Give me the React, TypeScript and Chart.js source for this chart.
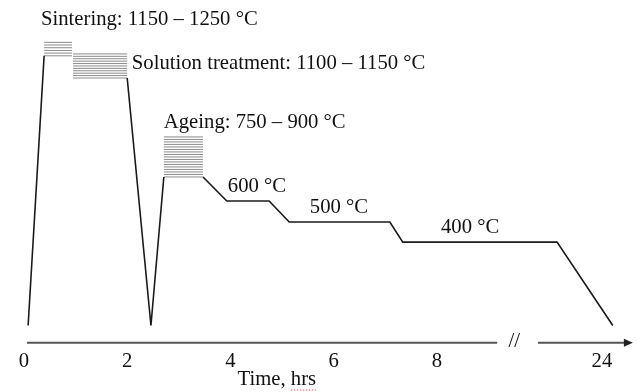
import React, { useEffect, useRef } from "react";
import { Chart, registerables } from "chart.js";

Chart.register(...registerables);

// ---- data (hours, schematic temperature level in °C) ----
const TIME_H: (number | null)[] = [0.08, 0.39, null, 2.0, 2.46, 2.71, null, 3.47, 3.93, 4.75, 5.14, 7.09, 7.34, 23.13, 24.21];
const LEVEL_C: (number | null)[] = [0, 1300, null, 1193, 0, 716, null, 716, 600, 600, 499, 499, 402, 402, 0];

// hatched holding windows
const HOLD_START_H = [0.39, 0.95, 2.71];
const HOLD_END_H = [0.93, 2.0, 3.47];
const HOLD_LOW_C = [1300, 1193, 716];
const HOLD_HIGH_C = [1365, 1309, 909];

// annotations
const LABEL_TEXT = [
  "Sintering: 1150 – 1250 °C",
  "Solution treatment: 1100 – 1150 °C",
  "Ageing: 750 – 900 °C",
  "600 °C",
  "500 °C",
  "400 °C",
];
const LABEL_TIME_H = [0.33, 2.09, 2.71, 3.95, 5.54, 8.08];
const LABEL_LEVEL_C = [1475, 1262, 978, 670, 568, 472];

// axis
const TICK_HOURS = [0, 2, 4, 6, 8, 24];
const TICK_LABELS = ["0", "2", "4", "6", "8", "24"];
const X_TITLE = "Time, hrs";
const X_TITLE_POS = 4.9;

// broken time axis: hours after the break are shifted left
const BREAK_AT = 9.6;
const BREAK_SHIFT = 12.8;
const toAxis = (h: number) => (h <= BREAK_AT ? h : h - BREAK_SHIFT);

const AXIS_FROM = 0.06;
const GAP_FROM = 9.17;
const GAP_TO = 9.96;
const AXIS_TO = 11.8;
const BREAK_MARK = 9.5;

const X_MIN = -0.465;
const X_MAX = 11.957;
const Y_MIN = -83;
const Y_MAX = 1569;

const FAMILY = '"Liberation Serif", "Times New Roman", serif';
const FONT = `20.7px ${FAMILY}`;

const decorPlugin = {
  id: "decor",
  beforeDatasetsDraw(chart: any) {
    const { ctx } = chart;
    const xs = chart.scales.x;
    const ys = chart.scales.y;
    ctx.save();
    ctx.strokeStyle = "#8c8c8c";
    ctx.lineWidth = 1;
    for (let b = 0; b < HOLD_START_H.length; b++) {
      const x0 = xs.getPixelForValue(toAxis(HOLD_START_H[b]));
      const x1 = xs.getPixelForValue(toAxis(HOLD_END_H[b]));
      const yb = ys.getPixelForValue(HOLD_LOW_C[b]);
      const yt = ys.getPixelForValue(HOLD_HIGH_C[b]);
      const n = Math.max(2, Math.round((yb - yt) / 2.5) + 1);
      for (let i = 0; i < n; i++) {
        const y = yb - (i * (yb - yt)) / (n - 1);
        ctx.beginPath();
        ctx.moveTo(x0, y);
        ctx.lineTo(x1, y);
        ctx.stroke();
      }
    }
    ctx.restore();
  },
  afterDraw(chart: any) {
    const { ctx, chartArea } = chart;
    const xs = chart.scales.x;
    const ys = chart.scales.y;
    ctx.save();
    // axis line with break and arrow
    const ay = chartArea.bottom;
    ctx.strokeStyle = "#555";
    ctx.fillStyle = "#222";
    ctx.lineWidth = 2;
    const a0 = xs.getPixelForValue(AXIS_FROM);
    const g0 = xs.getPixelForValue(GAP_FROM);
    const g1 = xs.getPixelForValue(GAP_TO);
    const a1 = xs.getPixelForValue(AXIS_TO);
    ctx.beginPath();
    ctx.moveTo(a0, ay);
    ctx.lineTo(g0, ay);
    ctx.moveTo(g1, ay);
    ctx.lineTo(a1 - 7, ay);
    ctx.stroke();
    ctx.beginPath();
    ctx.moveTo(a1, ay);
    ctx.lineTo(a1 - 9, ay - 4);
    ctx.lineTo(a1 - 9, ay + 4);
    ctx.closePath();
    ctx.fill();

    ctx.fillStyle = "#111";
    ctx.font = FONT;
    ctx.textAlign = "center";
    ctx.textBaseline = "middle";
    ctx.fillText("//", xs.getPixelForValue(BREAK_MARK), ay - 1);

    // annotations
    ctx.textAlign = "left";
    for (let i = 0; i < LABEL_TEXT.length; i++) {
      ctx.fillText(
        LABEL_TEXT[i],
        xs.getPixelForValue(toAxis(LABEL_TIME_H[i])),
        ys.getPixelForValue(LABEL_LEVEL_C[i])
      );
    }

    // axis title
    const tx = xs.getPixelForValue(X_TITLE_POS);
    const ty = chart.height - 12;
    ctx.textAlign = "center";
    ctx.fillText(X_TITLE, tx, ty);
    const full = ctx.measureText(X_TITLE).width;
    const pre = ctx.measureText("Time, ").width;
    const sx = tx - full / 2 + pre;
    const ex = tx + full / 2;
    ctx.strokeStyle = "#e06060";
    ctx.lineWidth = 1;
    ctx.setLineDash([1.5, 1.5]);
    ctx.beginPath();
    ctx.moveTo(sx, chart.height - 2);
    ctx.lineTo(ex, chart.height - 2);
    ctx.stroke();
    ctx.restore();
  },
};

export default function App() {
  const ref = useRef<HTMLCanvasElement | null>(null);
  useEffect(() => {
    if (!ref.current) return;
    const data = TIME_H.map((t, i) => {
      if (t === null || LEVEL_C[i] === null) {
        const prev = TIME_H[i - 1] as number;
        return { x: toAxis(prev), y: null as any };
      }
      return { x: toAxis(t), y: LEVEL_C[i] as number };
    });
    const chart = new Chart(ref.current, {
      type: "line",
      data: {
        datasets: [
          {
            data,
            borderColor: "#1a1a1a",
            borderWidth: 1.6,
            pointRadius: 0,
            tension: 0,
            spanGaps: false,
            fill: false,
          } as any,
        ],
      },
      options: {
        animation: false,
        responsive: false,
        maintainAspectRatio: false,
        devicePixelRatio: 1,
        layout: { padding: 0 },
        plugins: {
          legend: { display: false },
          tooltip: { enabled: false },
          title: { display: false },
        },
        scales: {
          x: {
            type: "linear",
            min: X_MIN,
            max: X_MAX,
            grid: { display: false, drawTicks: false },
            border: { display: false },
            afterBuildTicks: (scale: any) => {
              scale.ticks = TICK_HOURS.map((h) => ({ value: toAxis(h) }));
            },
            afterFit: (scale: any) => {
              scale.height = 49.3;
            },
            ticks: {
              autoSkip: false,
              maxRotation: 0,
              padding: 6,
              color: "#111",
              font: { family: FAMILY, size: 20.7 },
              callback: (_v: any, i: number) => TICK_LABELS[i],
            },
          },
          y: {
            type: "linear",
            display: false,
            min: Y_MIN,
            max: Y_MAX,
          },
        },
      },
      plugins: [decorPlugin],
    });
    return () => chart.destroy();
  }, []);
  return (
    <div style={{ position: "fixed", left: 0, top: 0, width: 641, height: 392, background: "#fff" }}>
      <canvas ref={ref} width={641} height={392} style={{ display: "block" }} />
    </div>
  );
}
